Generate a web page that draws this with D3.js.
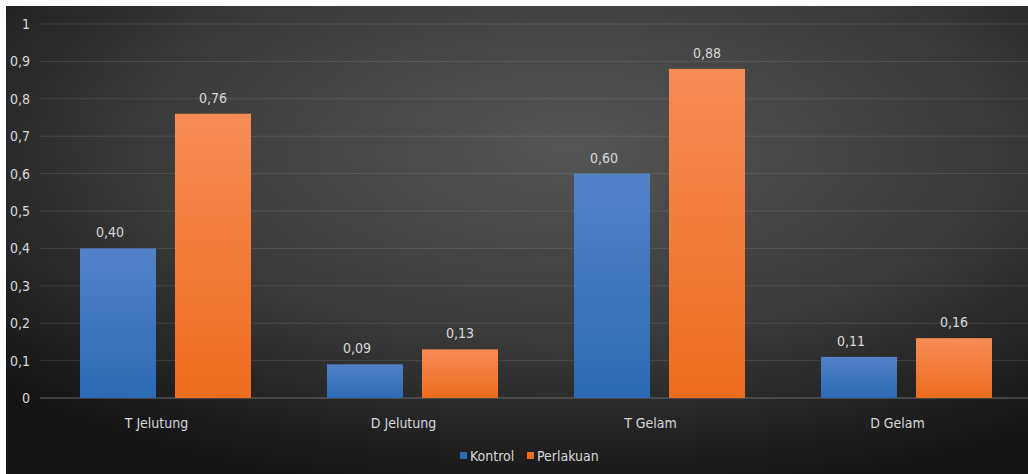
<!DOCTYPE html>
<html lang="en">
  <head>
    <meta charset="utf-8">
    <title>Kontrol vs Perlakuan</title>
    <script src="https://d3js.org/d3.v7.js"></script>
    <style>
      body { margin: 0; background: #fff; }
      text { font-family: "DejaVu Sans", sans-serif; font-stretch: condensed; fill: #d9d9d9; }
    </style>
  </head>

  <body>
    <script>
      // Data
      const categories = ["T Jelutung", "D Jelutung", "T Gelam", "D Gelam"];
      const seriesNames = ["Kontrol", "Perlakuan"];
      const kontrol = [0.40, 0.09, 0.60, 0.11];
      const perlakuan = [0.76, 0.13, 0.88, 0.16];
      const yTicks = [0, 0.1, 0.2, 0.3, 0.4, 0.5, 0.6, 0.7, 0.8, 0.9, 1];

      const w = 1028;
      const h = 474;
      const plot = { left: 42, right: 1030, top: 24, bottom: 398 };

      const svg = d3.select("body")
        .append("svg")
        .attr("width", w)
        .attr("height", h)
        .style("display", "block");

      const defs = svg.append("defs");

      const bg = defs.append("radialGradient")
        .attr("id", "bg")
        .attr("cx", "0.55").attr("cy", "0.3").attr("r", "0.75");
      bg.append("stop").attr("offset", "0%").attr("stop-color", "#555555");
      bg.append("stop").attr("offset", "55%").attr("stop-color", "#3a3a3a");
      bg.append("stop").attr("offset", "100%").attr("stop-color", "#141414");

      const colors = [["#5282c8", "#2c6ab4"], ["#f68c55", "#ee6c1e"]];
      colors.forEach((c, i) => {
        const g = defs.append("linearGradient")
          .attr("id", "bar" + i)
          .attr("x1", 0).attr("y1", 0).attr("x2", 0).attr("y2", 1);
        g.append("stop").attr("offset", "0%").attr("stop-color", c[0]);
        g.append("stop").attr("offset", "100%").attr("stop-color", c[1]);
      });

      svg.append("rect")
        .attr("x", 6)
        .attr("y", 6)
        .attr("width", w - 6)
        .attr("height", h - 6)
        .attr("fill", "url(#bg)");

      const xScale = d3.scaleBand()
        .domain(categories)
        .range([plot.left, plot.right]);

      const inner = d3.scaleBand()
        .domain(seriesNames)
        .range([38, xScale.bandwidth() - 38])
        .paddingInner(0.2);

      const yScale = d3.scaleLinear()
        .domain([0, 1])
        .range([plot.bottom, plot.top]);

      const fmt = d => d3.format(".2f")(d).replace(".", ",");
      const tickFmt = d => String(d).replace(".", ",");

      // gridlines
      svg.append("g")
        .selectAll("line")
        .data(yTicks)
        .enter().append("line")
        .attr("x1", 40)
        .attr("x2", w)
        .attr("y1", d => yScale(d))
        .attr("y2", d => yScale(d))
        .attr("stroke", d => d === 0 ? "#6a6a6a" : "rgba(255,255,255,0.11)")
        .attr("stroke-width", 1);

      // y tick labels
      svg.append("g")
        .selectAll("text")
        .data(yTicks)
        .enter().append("text")
        .attr("x", 30)
        .attr("y", d => yScale(d))
        .attr("dy", "0.35em")
        .attr("text-anchor", "end")
        .attr("font-size", 14)
        .text(tickFmt);

      const rows = categories.map((c, i) => ({ cat: c, values: [kontrol[i], perlakuan[i]] }));

      const groups = svg.append("g")
        .selectAll("g")
        .data(rows)
        .enter().append("g")
        .attr("transform", d => `translate(${xScale(d.cat)}, 0)`);

      groups.selectAll("rect")
        .data(d => d.values.map((v, i) => ({ v, s: seriesNames[i], i })))
        .enter().append("rect")
        .attr("x", d => inner(d.s))
        .attr("y", d => yScale(d.v))
        .attr("width", inner.bandwidth())
        .attr("height", d => yScale(0) - yScale(d.v))
        .attr("fill", d => `url(#bar${d.i})`);

      // Kontrol labels sit a little left of their bars in the original
      const labelShift = [-8, 0];
      groups.selectAll(".val")
        .data(d => d.values.map((v, i) => ({ v, s: seriesNames[i], i })))
        .enter().append("text")
        .attr("class", "val")
        .attr("x", d => inner(d.s) + inner.bandwidth() / 2 + labelShift[d.i])
        .attr("y", d => yScale(d.v) - 11)
        .attr("text-anchor", "middle")
        .attr("font-size", 14)
        .text(d => fmt(d.v));

      // category labels
      svg.append("g")
        .selectAll("text")
        .data(categories)
        .enter().append("text")
        .attr("x", d => xScale(d) + xScale.bandwidth() / 2 - 9)
        .attr("y", 428)
        .attr("text-anchor", "middle")
        .attr("font-size", 14)
        .text(d => d);

      // legend
      const legend = svg.append("g").attr("transform", "translate(460, 456)");
      const legendX = [0, 67];
      seriesNames.forEach((s, i) => {
        legend.append("rect")
          .attr("x", legendX[i])
          .attr("y", -4)
          .attr("width", 7)
          .attr("height", 7)
          .attr("fill", colors[i][1]);
        legend.append("text")
          .attr("x", legendX[i] + 10)
          .attr("y", 0)
          .attr("dy", "0.35em")
          .attr("font-size", 14)
          .text(s);
      });
    </script>
  </body>
</html>
